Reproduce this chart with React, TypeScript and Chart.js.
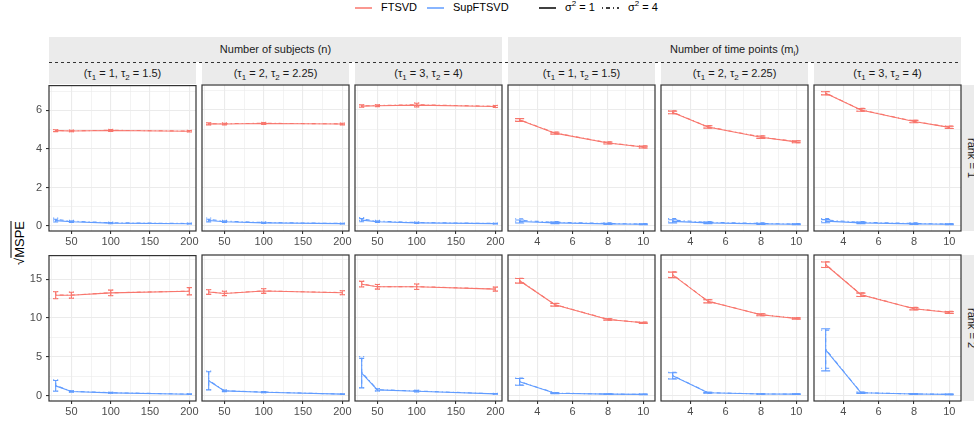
import React, { useEffect, useRef } from "react";
import { Chart, registerables } from "chart.js";
Chart.register(...registerables);

// ---------- data ----------
const nValues = [30, 50, 100, 200];
const mValues = [3, 5, 8, 10];

const nTicks = [25, 50, 75, 100, 125, 150, 175, 200];
const nMajor = [50, 100, 150, 200];
const mTicks = [3, 4, 5, 6, 7, 8, 9, 10];
const mMajor = [4, 6, 8, 10];
const yTicksRank1 = [0, 1, 2, 3, 4, 5, 6, 7];
const yMajorRank1 = [0, 2, 4, 6];
const yTicksRank2 = [0, 2.5, 5, 7.5, 10, 12.5, 15, 17.5];
const yMajorRank2 = [0, 5, 10, 15];

const xRangeN = [21.5, 208.5];
const xRangeM = [2.34, 10.66];
const yRangeRank1 = [-0.26, 7.29];
const yRangeRank2 = [-0.7, 18.05];

const groupLabels = ["Number of subjects (n)", "Number of time points (m"];
const tau1Labels = ["1", "2", "3"];
const tau2Labels = ["1.5", "2.25", "4"];
const rankLabels = ["rank = 1", "rank = 2"];
const methodLabels = ["FTSVD", "SupFTSVD"];

// panels order: n(τ set 1..3), m(τ set 1..3)
const ftsvdS1Rank1 = [
  [4.95, 4.93, 4.96, 4.92],
  [5.28, 5.27, 5.3, 5.27],
  [6.2, 6.22, 6.25, 6.18],
  [5.48, 4.8, 4.29, 4.08],
  [5.87, 5.12, 4.59, 4.35],
  [6.86, 6.0, 5.4, 5.1],
];
const ftsvdS4Rank1 = [
  [4.96, 4.94, 4.97, 4.93],
  [5.29, 5.29, 5.31, 5.28],
  [6.21, 6.23, 6.27, 6.19],
  [5.49, 4.81, 4.3, 4.09],
  [5.88, 5.13, 4.6, 4.36],
  [6.87, 6.01, 5.41, 5.11],
];
const ftsvdErrRank1 = [
  [0.05, 0.04, 0.05, 0.04],
  [0.05, 0.04, 0.05, 0.04],
  [0.06, 0.05, 0.1, 0.05],
  [0.07, 0.05, 0.05, 0.05],
  [0.07, 0.06, 0.06, 0.05],
  [0.08, 0.07, 0.06, 0.06],
];
const supS1Rank1 = [
  [0.28, 0.22, 0.15, 0.12],
  [0.28, 0.22, 0.16, 0.12],
  [0.3, 0.22, 0.16, 0.12],
  [0.23, 0.16, 0.11, 0.09],
  [0.24, 0.16, 0.11, 0.09],
  [0.25, 0.16, 0.11, 0.09],
];
const supS4Rank1 = [
  [0.34, 0.25, 0.17, 0.13],
  [0.34, 0.25, 0.18, 0.13],
  [0.36, 0.25, 0.18, 0.13],
  [0.29, 0.19, 0.13, 0.1],
  [0.3, 0.19, 0.13, 0.1],
  [0.31, 0.19, 0.13, 0.1],
];
const supErrRank1 = [
  [0.07, 0.04, 0.03, 0.02],
  [0.07, 0.04, 0.03, 0.02],
  [0.08, 0.04, 0.03, 0.02],
  [0.08, 0.04, 0.03, 0.02],
  [0.08, 0.04, 0.03, 0.02],
  [0.08, 0.04, 0.03, 0.02],
];

const ftsvdS1Rank2 = [
  [12.94, 12.94, 13.24, 13.45],
  [13.29, 13.11, 13.42, 13.2],
  [14.3, 13.97, 13.97, 13.67],
  [14.74, 11.66, 9.77, 9.34],
  [15.5, 12.1, 10.37, 9.9],
  [16.8, 12.94, 11.15, 10.67],
];
const ftsvdS4Rank2 = [
  [12.97, 12.96, 13.26, 13.47],
  [13.31, 13.13, 13.44, 13.22],
  [14.33, 13.99, 13.99, 13.69],
  [14.77, 11.68, 9.79, 9.36],
  [15.53, 12.12, 10.39, 9.92],
  [16.83, 12.96, 11.17, 10.69],
];
const ftsvdErrRank2 = [
  [0.45, 0.39, 0.36, 0.47],
  [0.3, 0.28, 0.3, 0.26],
  [0.36, 0.3, 0.35, 0.26],
  [0.3, 0.17, 0.1, 0.08],
  [0.35, 0.2, 0.12, 0.09],
  [0.35, 0.22, 0.15, 0.12],
];
const supS1Rank2 = [
  [1.25, 0.52, 0.35, 0.18],
  [1.89, 0.6, 0.43, 0.18],
  [2.88, 0.73, 0.56, 0.22],
  [1.76, 0.3, 0.18, 0.15],
  [2.53, 0.35, 0.2, 0.18],
  [5.87, 0.35, 0.2, 0.15],
];
const supS4Rank2 = [
  [1.3, 0.55, 0.37, 0.19],
  [1.95, 0.62, 0.45, 0.19],
  [3.0, 0.75, 0.58, 0.23],
  [1.8, 0.32, 0.19, 0.16],
  [2.58, 0.37, 0.21, 0.18],
  [5.95, 0.37, 0.21, 0.16],
];
const supErrS1Rank2 = [
  [0.7, 0.08, 0.06, 0.04],
  [1.16, 0.1, 0.07, 0.04],
  [1.9, 0.15, 0.1, 0.05],
  [0.43, 0.06, 0.04, 0.03],
  [0.4, 0.06, 0.04, 0.03],
  [2.7, 0.08, 0.05, 0.04],
];
const supErrS4Rank2 = [
  [0.72, 0.08, 0.06, 0.04],
  [1.2, 0.1, 0.07, 0.04],
  [2.0, 0.15, 0.1, 0.05],
  [0.45, 0.06, 0.04, 0.03],
  [0.42, 0.06, 0.04, 0.03],
  [2.45, 0.08, 0.05, 0.04],
];

// ---------- style / layout ----------
const FONT = "'Liberation Sans', Arial, Helvetica, sans-serif";
const RED = "#F8766D";
const BLUE = "#619CFF";
const DOTDASH = [1, 3, 4, 3];
const PANEL_LEFTS = [49, 202, 355, 508, 661, 814];
const PANEL_W = 147;
const ROW_TOPS = [85, 255];
const PANEL_H = 146;
const PADL = 14;
const PADR = 14;
const PADT = 10;
const XAXIS_H = 20;
const YAXIS_W = 30;

const panelPlugin = {
  id: "panelDecor",
  afterDatasetsDraw(chart: any) {
    const { ctx, scales } = chart;
    chart.data.datasets.forEach((ds: any) => {
      ctx.save();
      ctx.strokeStyle = ds.borderColor;
      ctx.lineWidth = ds.borderWidth;
      ctx.setLineDash(ds.borderDash || []);
      ds.data.forEach((p: any, i: number) => {
        const e = ds.errs[i];
        const x = scales.x.getPixelForValue(p.x);
        const y1 = scales.y.getPixelForValue(p.y - e);
        const y2 = scales.y.getPixelForValue(p.y + e);
        const c = ds.cap;
        ctx.beginPath();
        ctx.moveTo(x, y1);
        ctx.lineTo(x, y2);
        ctx.moveTo(x - c, y1);
        ctx.lineTo(x + c, y1);
        ctx.moveTo(x - c, y2);
        ctx.lineTo(x + c, y2);
        ctx.stroke();
      });
      ctx.restore();
    });
  },
  afterDraw(chart: any) {
    const { ctx, chartArea } = chart;
    ctx.save();
    ctx.strokeStyle = "#333333";
    ctx.lineWidth = 1.2;
    ctx.strokeRect(
      chartArea.left,
      chartArea.top,
      chartArea.right - chartArea.left,
      chartArea.bottom - chartArea.top
    );
    ctx.restore();
  },
};

function Panel({ row, col }: { row: number; col: number }) {
  const ref = useRef<HTMLCanvasElement | null>(null);
  const yW = col === 0 ? YAXIS_W : 0;
  const left = PANEL_LEFTS[col] - yW - PADL;
  const top = ROW_TOPS[row] - PADT;
  const width = PADL + yW + PANEL_W + PADR;
  const height = PADT + PANEL_H + XAXIS_H;

  useEffect(() => {
    const isN = col < 3;
    const xs = isN ? nValues : mValues;
    const xTicks = isN ? nTicks : mTicks;
    const xMajor = isN ? nMajor : mMajor;
    const xRange = isN ? xRangeN : xRangeM;
    const yTicks = row === 0 ? yTicksRank1 : yTicksRank2;
    const yMajor = row === 0 ? yMajorRank1 : yMajorRank2;
    const yRange = row === 0 ? yRangeRank1 : yRangeRank2;
    const cap = isN ? 2.5 : 4.5;

    const series =
      row === 0
        ? [
            { v: ftsvdS1Rank1[col], e: ftsvdErrRank1[col], c: RED, d: [] },
            { v: ftsvdS4Rank1[col], e: ftsvdErrRank1[col], c: RED, d: DOTDASH },
            { v: supS1Rank1[col], e: supErrRank1[col], c: BLUE, d: [] },
            { v: supS4Rank1[col], e: supErrRank1[col], c: BLUE, d: DOTDASH },
          ]
        : [
            { v: ftsvdS1Rank2[col], e: ftsvdErrRank2[col], c: RED, d: [] },
            { v: ftsvdS4Rank2[col], e: ftsvdErrRank2[col], c: RED, d: DOTDASH },
            { v: supS1Rank2[col], e: supErrS1Rank2[col], c: BLUE, d: [] },
            { v: supS4Rank2[col], e: supErrS4Rank2[col], c: BLUE, d: DOTDASH },
          ];

    const datasets = series.map((s) => ({
      data: xs.map((x, i) => ({ x, y: s.v[i] })),
      errs: s.e,
      cap,
      borderColor: s.c,
      borderWidth: 1.1,
      borderDash: s.d,
      pointRadius: 0,
      tension: 0,
      fill: false,
    }));

    const tickFont = { family: FONT, size: 11 };
    const chart = new Chart(ref.current as HTMLCanvasElement, {
      type: "line",
      data: { datasets } as any,
      options: {
        animation: false,
        responsive: false,
        devicePixelRatio: 1,
        events: [],
        layout: { padding: { left: PADL, right: PADR, top: PADT, bottom: 0 } },
        plugins: { legend: { display: false }, tooltip: { enabled: false } },
        scales: {
          x: {
            type: "linear",
            min: xRange[0],
            max: xRange[1],
            afterBuildTicks: (s: any) => {
              s.ticks = xTicks.map((v) => ({ value: v }));
            },
            afterFit: (s: any) => {
              s.height = XAXIS_H;
            },
            border: { display: false },
            grid: {
              color: "#EBEBEB",
              lineWidth: (c: any) => (xMajor.includes(c.tick?.value) ? 1.1 : 0.6),
              tickColor: (c: any) =>
                xMajor.includes(c.tick?.value) ? "#333333" : "rgba(0,0,0,0)",
              tickLength: 3,
              drawTicks: true,
            },
            ticks: {
              autoSkip: false,
              maxRotation: 0,
              minRotation: 0,
              padding: 1,
              color: "#4D4D4D",
              font: tickFont,
              callback: (v: any) => (xMajor.includes(v) ? String(v) : ""),
            },
          },
          y: {
            type: "linear",
            min: yRange[0],
            max: yRange[1],
            afterBuildTicks: (s: any) => {
              s.ticks = yTicks.map((v) => ({ value: v }));
            },
            afterFit: (s: any) => {
              s.width = yW;
            },
            border: { display: false },
            grid: {
              color: "#EBEBEB",
              lineWidth: (c: any) => (yMajor.includes(c.tick?.value) ? 1.1 : 0.6),
              tickColor: (c: any) =>
                yMajor.includes(c.tick?.value) ? "#333333" : "rgba(0,0,0,0)",
              tickLength: 3,
              drawTicks: col === 0,
            },
            ticks: {
              display: col === 0,
              autoSkip: false,
              padding: 4,
              color: "#4D4D4D",
              font: tickFont,
              callback: (v: any) => (yMajor.includes(v) ? String(v) : ""),
            },
          },
        },
      } as any,
      plugins: [panelPlugin],
    });
    return () => chart.destroy();
  }, []);

  return (
    <canvas
      ref={ref}
      width={width}
      height={height}
      style={{ position: "absolute", left, top, width, height }}
    />
  );
}

const subStyle: React.CSSProperties = { fontSize: 8, verticalAlign: "sub", lineHeight: 0 };

function Strip({ left, top, width, height, children }: any) {
  return (
    <div
      style={{
        position: "absolute",
        left,
        top,
        width,
        height,
        background: "#EBEBEB",
        color: "#1A1A1A",
        fontSize: 11,
        lineHeight: height + "px",
        textAlign: "center",
        whiteSpace: "nowrap",
      }}
    >
      {children}
    </div>
  );
}

function LegendLine({ left, color, dash }: { left: number; color: string; dash?: string }) {
  return (
    <svg width={17} height={4} style={{ position: "absolute", left, top: 5.5 }}>
      <line x1={0} y1={2} x2={17} y2={2} stroke={color} strokeWidth={1.5} strokeDasharray={dash} />
    </svg>
  );
}

function LegendText({ left, children }: any) {
  return (
    <div
      style={{
        position: "absolute",
        left,
        top: 1,
        fontSize: 11,
        lineHeight: "13px",
        color: "#000",
        whiteSpace: "nowrap",
      }}
    >
      {children}
    </div>
  );
}

export default function App() {
  const panels = [];
  for (let r = 0; r < 2; r++) {
    for (let c = 0; c < 6; c++) panels.push(<Panel key={r + "-" + c} row={r} col={c} />);
  }
  return (
    <div
      style={{
        position: "fixed",
        left: 0,
        top: 0,
        width: 974,
        height: 425,
        overflow: "hidden",
        background: "#FFFFFF",
        fontFamily: FONT,
      }}
    >
      {/* legend */}
      <LegendLine left={355} color={RED} />
      <LegendText left={381}>{methodLabels[0]}</LegendText>
      <LegendLine left={427} color={BLUE} />
      <LegendText left={453}>{methodLabels[1]}</LegendText>
      <LegendLine left={539} color="#000" />
      <LegendText left={565}>
        σ<sup style={{ fontSize: 8, lineHeight: 0 }}>2</sup> = 1
      </LegendText>
      <LegendLine left={602} color="#000" dash="1 3 4 3" />
      <LegendText left={628}>
        σ<sup style={{ fontSize: 8, lineHeight: 0 }}>2</sup> = 4
      </LegendText>

      {/* top strips */}
      <Strip left={49} top={37} width={453} height={25}>
        {groupLabels[0]}
      </Strip>
      <Strip left={508} top={37} width={453} height={25}>
        {groupLabels[1]}
        <sub style={subStyle}>i</sub>)
      </Strip>
      {PANEL_LEFTS.map((l, i) => (
        <Strip key={"s" + i} left={l} top={62} width={PANEL_W} height={22}>
          (τ<sub style={subStyle}>1</sub> = {tau1Labels[i % 3]}, τ
          <sub style={subStyle}>2</sub> = {tau2Labels[i % 3]})
        </Strip>
      ))}
      <svg width={912} height={3} style={{ position: "absolute", left: 49, top: 61 }}>
        <line x1={0} y1={1.5} x2={912} y2={1.5} stroke="#333" strokeWidth={1} strokeDasharray="3 3" />
      </svg>

      {/* right strips */}
      {ROW_TOPS.map((t, i) => (
        <div
          key={"r" + i}
          style={{
            position: "absolute",
            left: 961,
            top: t,
            width: 24,
            height: PANEL_H,
            background: "#EBEBEB",
          }}
        >
          <div
            style={{
              position: "absolute",
              left: 10,
              top: PANEL_H / 2,
              transform: "translate(-50%, -50%) rotate(90deg)",
              fontSize: 11,
              lineHeight: "13px",
              color: "#1A1A1A",
              whiteSpace: "nowrap",
            }}
          >
            {rankLabels[i]}
          </div>
        </div>
      ))}

      {/* y title */}
      <div
        style={{
          position: "absolute",
          left: 19,
          top: 243,
          transform: "translate(-50%, -50%) rotate(-90deg)",
          fontSize: 13,
          lineHeight: "15px",
          color: "#000",
          whiteSpace: "nowrap",
        }}
      >
        √<span style={{ textDecoration: "overline" }}>MSPE</span>
      </div>

      {panels}
    </div>
  );
}
